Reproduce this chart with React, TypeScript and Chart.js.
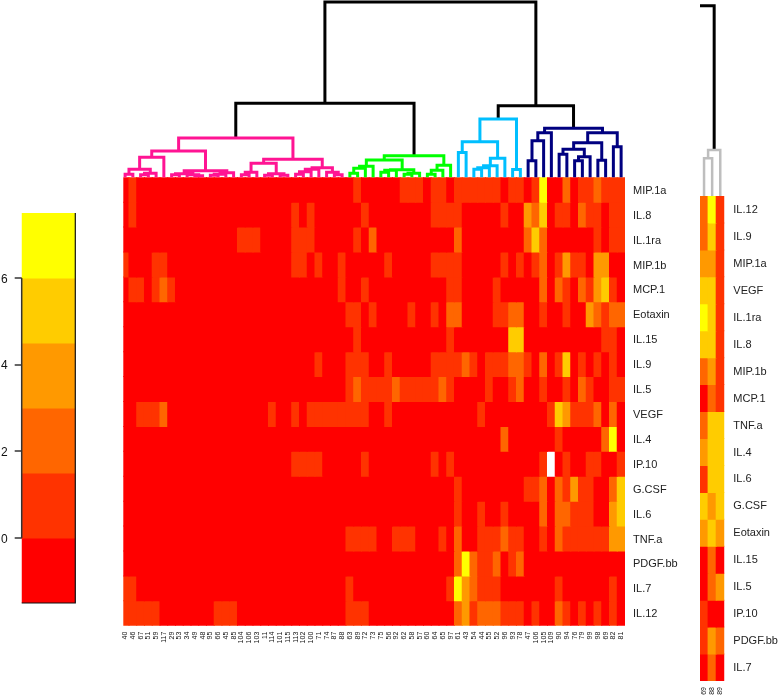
import React, { useEffect, useRef } from "react";
import { Chart, registerables } from "chart.js";

Chart.register(...registerables);

const FONT = "'Liberation Sans', Arial, sans-serif";

// colour key
const palette = ["#ff0000", "#ff3300", "#ff6600", "#ff9900", "#ffcc00", "#ffff00", "#ffffff"];
const keyBreaks = [-1.5, 0, 1.5, 3, 4.5, 6, 7.5];
const keyTicks = [0, 2, 4, 6];

// main heatmap: colour level per column
const rowNames = ["MIP.1a", "IL.8", "IL.1ra", "MIP.1b", "MCP.1", "Eotaxin", "IL.15", "IL.9", "IL.5", "VEGF", "IL.4", "IP.10", "G.CSF", "IL.6", "TNF.a", "PDGF.bb", "IL.7", "IL.12"];
const colLabels = ["40", "46", "67", "51", "59", "117", "29", "53", "34", "49", "48", "95", "66", "45", "85", "104", "106", "103", "11", "114", "101", "115", "113", "102", "100", "71", "74", "87", "88", "63", "89", "72", "73", "75", "56", "92", "62", "58", "57", "60", "64", "65", "97", "61", "43", "54", "44", "55", "52", "96", "93", "78", "47", "106", "105", "109", "90", "94", "76", "79", "99", "98", "69", "82", "81"];

const mip1a = [0,1,0,0,0, 0,0,0,0,0, 0,0,0,0,0, 0,0,0,0,0, 0,0,0,0,0, 0,0,0,0,0, 1,0,0,0,0, 0,1,1,1,0, 1,1,0,1,1, 1,1,1,1,0, 1,1,0,1,5, 0,0,2,0,1, 1,2,1,1,1];
const il8 = [0,1,0,0,0, 0,0,0,0,0, 0,0,0,0,0, 0,0,0,0,0, 0,0,1,0,1, 0,0,0,0,0, 0,1,0,0,0, 0,0,0,0,0, 1,1,1,1,0, 0,0,0,0,1, 0,0,3,2,4, 0,1,1,0,2, 1,1,0,1,1];
const il1ra = [0,0,0,0,0, 0,0,0,0,0, 0,0,0,0,0, 1,1,1,0,0, 0,0,1,1,1, 0,0,0,0,0, 1,0,2,0,0, 0,0,0,0,0, 0,0,0,2,0, 0,0,0,0,0, 0,0,2,4,2, 0,0,0,0,0, 0,1,0,1,1];
const mip1b = [1,0,0,0,1, 1,0,0,0,0, 0,0,0,0,0, 0,0,0,0,0, 0,0,1,1,0, 1,0,0,1,0, 0,0,0,0,1, 0,0,0,0,0, 1,1,1,1,0, 0,0,0,0,1, 0,1,0,1,2, 0,1,3,1,1, 0,3,3,0,0];
const mcp1 = [0,1,1,0,1, 2,1,0,0,0, 0,0,0,0,0, 0,0,0,0,0, 0,0,0,0,0, 0,0,0,1,0, 0,1,0,0,0, 0,0,0,0,0, 0,0,1,1,0, 0,0,0,1,0, 0,0,0,0,2, 0,2,1,0,2, 1,3,4,1,0];
const eotaxin = [0,0,0,0,0, 0,0,0,0,0, 0,0,0,0,0, 0,0,0,0,0, 0,0,0,0,0, 0,0,0,0,1, 1,0,1,0,0, 0,0,1,0,0, 1,0,2,2,0, 0,0,0,1,1, 2,2,0,0,1, 0,0,1,0,0, 3,2,1,2,2];
const il15 = [0,0,0,0,0, 0,0,0,0,0, 0,0,0,0,0, 0,0,0,0,0, 0,0,0,0,0, 0,0,0,0,0, 1,0,0,0,0, 0,0,0,0,0, 0,0,1,0,0, 0,0,0,0,0, 4,4,0,0,0, 0,0,0,0,0, 0,0,1,1,0];
const il9 = [0,0,0,0,0, 0,0,0,0,0, 0,0,0,0,0, 0,0,0,0,0, 0,0,0,0,0, 1,0,0,0,1, 1,1,0,0,1, 0,0,0,0,0, 1,1,1,1,2, 1,0,1,1,1, 2,2,1,0,2, 0,1,4,0,1, 0,1,0,1,0];
const il5 = [0,0,0,0,0, 0,0,0,0,0, 0,0,0,0,0, 0,0,0,0,0, 0,0,0,0,0, 0,0,0,0,1, 2,1,1,1,1, 2,1,1,1,1, 1,2,1,0,0, 0,0,1,0,0, 1,2,0,0,1, 0,0,1,0,2, 1,0,0,1,1];
const vegf = [0,0,1,1,1, 2,0,0,0,0, 0,0,0,0,0, 0,0,0,0,1, 0,0,1,0,1, 1,1,1,1,1, 1,1,0,0,1, 0,0,0,0,0, 0,0,0,0,0, 0,1,0,0,0, 0,0,0,0,0, 1,4,3,1,1, 1,2,0,2,0];
const il4 = [0,0,0,0,0, 0,0,0,0,0, 0,0,0,0,0, 0,0,0,0,0, 0,0,0,0,0, 0,0,0,0,0, 0,0,0,0,0, 0,0,0,0,0, 0,0,0,0,0, 0,0,0,0,2, 0,0,0,0,0, 0,1,0,0,0, 0,0,2,5,0];
const ip10 = [0,0,0,0,0, 0,0,0,0,0, 0,0,0,0,0, 0,0,0,0,0, 0,0,1,1,1, 1,0,0,0,0, 0,1,0,0,0, 0,0,0,0,0, 1,0,1,0,0, 0,0,0,0,0, 0,0,0,0,1, 6,0,1,0,0, 1,1,0,0,1];
const gcsf = [0,0,0,0,0, 0,0,0,0,0, 0,0,0,0,0, 0,0,0,0,0, 0,0,0,0,0, 0,0,0,0,0, 0,0,0,0,0, 0,0,0,0,0, 0,0,0,1,0, 0,0,0,0,0, 0,0,1,1,2, 0,2,1,3,1, 1,0,0,2,4];
const il6 = [0,0,0,0,0, 0,0,0,0,0, 0,0,0,0,0, 0,0,0,0,0, 0,0,0,0,0, 0,0,0,0,0, 0,0,0,0,0, 0,0,0,0,0, 0,0,0,1,0, 0,1,0,0,1, 0,0,0,0,2, 0,2,2,1,1, 1,0,0,3,4];
const tnfa = [0,0,0,0,0, 0,0,0,0,0, 0,0,0,0,0, 0,0,0,0,0, 0,0,0,0,0, 0,0,0,0,1, 1,1,1,0,0, 1,1,1,0,0, 0,1,0,2,0, 0,1,1,1,2, 1,1,0,0,1, 0,2,1,1,1, 1,1,1,3,3];
const pdgfbb = [0,0,0,0,0, 0,0,0,0,0, 0,0,0,0,0, 0,0,0,0,0, 0,0,0,0,0, 0,0,0,0,0, 0,0,0,0,0, 0,0,0,0,0, 0,0,0,2,5, 2,1,1,2,0, 1,2,0,0,0, 0,0,0,0,0, 0,0,0,0,0];
const il7 = [1,1,0,0,0, 0,0,0,0,0, 0,0,0,0,0, 0,0,0,0,0, 0,0,0,0,0, 0,0,0,0,1, 0,0,0,0,0, 0,0,0,0,0, 0,0,1,5,3, 2,1,1,1,0, 0,0,0,0,0, 0,1,0,0,0, 0,0,0,1,0];
const il12 = [1,1,1,1,1, 0,0,0,0,0, 0,0,1,1,1, 0,0,0,0,0, 0,0,0,0,0, 0,0,0,0,1, 1,1,0,0,0, 0,0,0,0,0, 0,0,0,2,3, 1,2,2,2,1, 1,1,0,1,0, 0,2,1,0,1, 0,1,0,1,0];
const mainRows = [mip1a, il8, il1ra, mip1b, mcp1, eotaxin, il15, il9, il5, vegf, il4, ip10, gcsf, il6, tnfa, pdgfbb, il7, il12];

// side heatmap
const sideNames = ["IL.12", "IL.9", "MIP.1a", "VEGF", "IL.1ra", "IL.8", "MIP.1b", "MCP.1", "TNF.a", "IL.4", "IL.6", "G.CSF", "Eotaxin", "IL.15", "IL.5", "IP.10", "PDGF.bb", "IL.7"];
const sideLabels = ["69", "88", "89"];
const sideCol0 = [2, 2, 3, 4, 5, 4, 2, 0, 2, 3, 1, 4, 3, 0, 0, 1, 1, 0];
const sideCol1 = [5, 4, 3, 4, 4, 4, 3, 2, 4, 4, 4, 3, 4, 2, 2, 0, 3, 2];
const sideCol2 = [1, 1, 1, 1, 1, 1, 1, 1, 4, 4, 4, 4, 3, 0, 3, 0, 2, 0];
const sideCols = [sideCol0, sideCol1, sideCol2];

// dendrograms: a node is a leaf column or [left, right, merge height]
type Node = number | [Node, Node, number];
const pinkTree: Node = [
  [
    [[[0, 1, 3], [[2, 3, 2.5], 4, 4], 8], 5, 20],
    [
      [[6, 7, 2.5], [8, [9, 10, 1.5], 2.5], 3.5],
      [[[11, 12, 2], 13, 3], 14, 4.5],
      6.5,
    ],
    26.3,
  ],
  [
    [[[15, 16, 2.5], 17, 5], [[18, 19, 2], [20, 21, 2], 3.5], 14],
    [[[[22, 23, 3], 24, 5.5], 25, 8], [26, [27, 28, 2.5], 5], 9.5],
    18,
  ],
  39.3,
];
const greenTree: Node = [
  [[[[29, 30, 4], 31, 9], 32, 11], [[[33, 34, 5], 35, 7], [[36, 37, 3], 38, 4], 7.5], 17.3],
  [[[39, 40, 3], 41, 7], 42, 12],
  21.6,
];
const blueTree: Node = [
  [[43, 44, 24.7], [[[[45, 46, 8], 47, 9.5], 48, 11.5], 49, 19], 35.6],
  [50, 51, 7.7],
  58.3,
];
const navyTree: Node = [
  [[[52, 53, 16.5], 54, 36.5], 55, 44.5],
  [
    [
      [[56, 57, 23], [[58, 59, 16.5], 60, 20.5], 28],
      [61, 62, 17],
      34.5,
    ],
    [63, 64, 30.5],
    44.5,
  ],
  49,
];
const leftJoinHeight = 74;
const rightJoinHeight = 71.6;
const rootHeight = 175.3;
const sideTree: Node = [[0, 1, 37.7], 2, 46];
const sideStubHeight = 190.3;
const sideStubEnd = -0.5;

type Pt = { x: number; y: number };
const GAP: Pt = { x: NaN, y: NaN };
type Placed = { x: number; h: number };

function join(a: Placed, b: Placed, h: number, out: Pt[]): Placed {
  out.push({ x: a.x, y: a.h }, { x: a.x, y: h }, { x: b.x, y: h }, { x: b.x, y: b.h }, GAP);
  return { x: (a.x + b.x) / 2, h };
}
function place(n: Node, out: Pt[]): Placed {
  if (typeof n === "number") return { x: n, h: 0 };
  return join(place(n[0], out), place(n[1], out), n[2], out);
}

const noLegend = { legend: { display: false }, tooltip: { enabled: false } };

function heatOptions(
  area: { left: number; right: number; top: number; bottom: number },
  xMin: number, xMax: number, labelsX: string[], labelsY: string[],
  xFont: number, xPad: number, yPad: number, yShift: number,
) {
  return {
    responsive: false,
    animation: false as const,
    events: [],
    layout: { padding: { left: area.left, top: area.top, right: 0, bottom: 0 } },
    plugins: noLegend,
    elements: { bar: { inflateAmount: 0.5 } },
    datasets: { bar: { grouped: false, barPercentage: 1, categoryPercentage: 1, borderWidth: 0 } },
    scales: {
      x: {
        type: "linear" as const, min: xMin, max: xMax, offset: false, position: "bottom" as const,
        grid: { display: false, drawTicks: false }, border: { display: false },
        afterBuildTicks: (s: any) => { s.ticks = labelsX.map((_, i) => ({ value: i })); },
        afterFit: (s: any) => { s.height = 700 - area.bottom; },
        ticks: {
          autoSkip: false, minRotation: 90, maxRotation: 90, padding: xPad,
          color: "#111", font: { family: FONT, size: xFont },
          callback: (v: any) => labelsX[Number(v)] ?? "",
        },
      },
      y: {
        type: "linear" as const, reverse: true, min: 0, max: labelsY.length, position: "right" as const,
        grid: { display: false, drawTicks: false }, border: { display: false },
        afterBuildTicks: (s: any) => { s.ticks = labelsY.map((_, i) => ({ value: i + 0.5 })); },
        afterFit: (s: any) => { s.width = 784 - area.right; },
        ticks: {
          autoSkip: false, padding: yPad, labelOffset: yShift, color: "#222", font: { family: FONT, size: 11 },
          callback: (v: any) => labelsY[Math.floor(Number(v))] ?? "",
        },
      },
    },
  };
}

function dendroOptions(
  area: { left: number; right: number; top: number; bottom: number },
  xMin: number, xMax: number, yMax: number,
) {
  return {
    responsive: false,
    animation: false as const,
    events: [],
    layout: { padding: { left: area.left, top: area.top, right: 784 - area.right, bottom: 700 - area.bottom } },
    plugins: noLegend,
    elements: { point: { radius: 0 }, line: { tension: 0, borderCapStyle: "butt", borderJoinStyle: "miter" } },
    scales: {
      x: { type: "linear" as const, display: false, min: xMin, max: xMax },
      y: { type: "linear" as const, display: false, min: 0, max: yMax },
    },
  };
}

function lineSet(data: Pt[], color: string, width: number) {
  return { data, borderColor: color, borderWidth: width, showLine: true, pointRadius: 0, clip: false as const, spanGaps: false, fill: false };
}

export default function App() {
  const keyRef = useRef<HTMLCanvasElement>(null);
  const mainRef = useRef<HTMLCanvasElement>(null);
  const treeRef = useRef<HTMLCanvasElement>(null);
  const sideRef = useRef<HTMLCanvasElement>(null);
  const sideTreeRef = useRef<HTMLCanvasElement>(null);

  useEffect(() => {
    const charts: Chart[] = [];

    // colour key
    charts.push(new Chart(keyRef.current!, {
      type: "bar",
      data: {
        datasets: [
          { type: "scatter", ...lineSet([{ x: 0, y: keyTicks[0] }, { x: 0, y: keyTicks[keyTicks.length - 1] }], "#333", 1.5) },
          { type: "scatter", ...lineSet([{ x: 1, y: keyBreaks[6] }, { x: 1, y: keyBreaks[0] }, { x: 0, y: keyBreaks[0] }], "#111", 1.2) },
          {
            type: "bar",
            data: palette.slice(0, 6).map((_, i) => ({ x: 0.5, y: [keyBreaks[i], keyBreaks[i + 1]] })),
            backgroundColor: palette.slice(0, 6),
            borderWidth: 0, barPercentage: 1, categoryPercentage: 1, inflateAmount: 0.5,
          },
        ] as any,
      },
      options: {
        responsive: false, animation: false, events: [],
        layout: { padding: { left: 0, top: 213, right: 784 - 75.3, bottom: 97 } },
        plugins: noLegend,
        scales: {
          x: { type: "linear", min: 0, max: 1, display: false, offset: false },
          y: {
            type: "linear", min: keyBreaks[0], max: keyBreaks[6], position: "left",
            border: { display: false },
            grid: { drawOnChartArea: false, drawTicks: true, tickLength: 7, lineWidth: 0, tickWidth: 1.5, tickColor: "#333" },
            afterBuildTicks: (s: any) => { s.ticks = keyTicks.map((value) => ({ value })); },
            afterFit: (s: any) => { s.width = 21.7; },
            ticks: { padding: 7, labelOffset: 1.5, color: "#111", font: { family: FONT, size: 12 }, callback: (v: any) => String(v) },
          },
        },
      } as any,
    }));

    // main heatmap
    const mainArea = { left: 123.3, right: 625, top: 177.3, bottom: 625.7 };
    charts.push(new Chart(mainRef.current!, {
      type: "bar",
      data: {
        datasets: mainRows.map((row, r) => ({
          data: row.map((_, c) => ({ x: c, y: [r, r + 1] })),
          backgroundColor: row.map((v) => palette[v]),
        })) as any,
      },
      options: heatOptions(mainArea, -0.232, 64.5, colLabels, rowNames, 7, 6, 8, 1) as any,
    }));

    // main dendrogram
    const pink: Pt[] = [], green: Pt[] = [], blue: Pt[] = [], navy: Pt[] = [], black: Pt[] = [];
    const pinkTop = place(pinkTree, pink);
    const greenTop = place(greenTree, green);
    const blueTop = place(blueTree, blue);
    const navyTop = place(navyTree, navy);
    const leftTop = join(pinkTop, greenTop, leftJoinHeight, black);
    const rightTop = join(blueTop, navyTop, rightJoinHeight, black);
    join(leftTop, rightTop, rootHeight, black);
    charts.push(new Chart(treeRef.current!, {
      type: "scatter",
      data: {
        datasets: [
          lineSet(pink, "#ff1493", 3),
          lineSet(green, "#00ff00", 3),
          lineSet(blue, "#00bfff", 3),
          lineSet(navy, "#000080", 3),
          lineSet(black, "#000000", 3),
        ],
      },
      options: dendroOptions({ left: 123.3, right: 625, top: 0, bottom: 177.3 }, -0.232, 64.5, 177.3) as any,
    }));

    // side heatmap
    const sideArea = { left: 700, right: 724.3, top: 196, bottom: 681 };
    charts.push(new Chart(sideRef.current!, {
      type: "bar",
      data: {
        datasets: sideNames.map((_, r) => ({
          data: sideCols.map((__, c) => ({ x: c, y: [r, r + 1] })),
          backgroundColor: sideCols.map((col) => palette[col[r]]),
        })) as any,
      },
      options: heatOptions(sideArea, -0.5, 2.5, sideLabels, sideNames, 7, 6, 9, 0.5) as any,
    }));

    // side dendrogram
    const grey: Pt[] = [];
    const sideTop = place(sideTree, grey);
    const sideBlack: Pt[] = [
      { x: sideTop.x, y: sideTop.h },
      { x: sideTop.x, y: sideStubHeight },
      { x: sideStubEnd, y: sideStubHeight },
    ];
    charts.push(new Chart(sideTreeRef.current!, {
      type: "scatter",
      data: { datasets: [lineSet(grey, "#bebebe", 2.5), lineSet(sideBlack, "#000000", 3)] },
      options: dendroOptions({ left: 700, right: 724.3, top: 0, bottom: 196 }, -0.5, 2.5, 196) as any,
    }));

    return () => charts.forEach((c) => c.destroy());
  }, []);

  const layer: React.CSSProperties = { position: "absolute", left: 0, top: 0, display: "block" };
  return (
    <div style={{ position: "absolute", left: 0, top: 0, width: 784, height: 700, overflow: "hidden", background: "#fff" }}>
      <canvas ref={mainRef} width={784} height={700} style={layer} />
      <canvas ref={sideRef} width={784} height={700} style={layer} />
      <canvas ref={keyRef} width={784} height={700} style={layer} />
      <canvas ref={treeRef} width={784} height={700} style={layer} />
      <canvas ref={sideTreeRef} width={784} height={700} style={layer} />
    </div>
  );
}
